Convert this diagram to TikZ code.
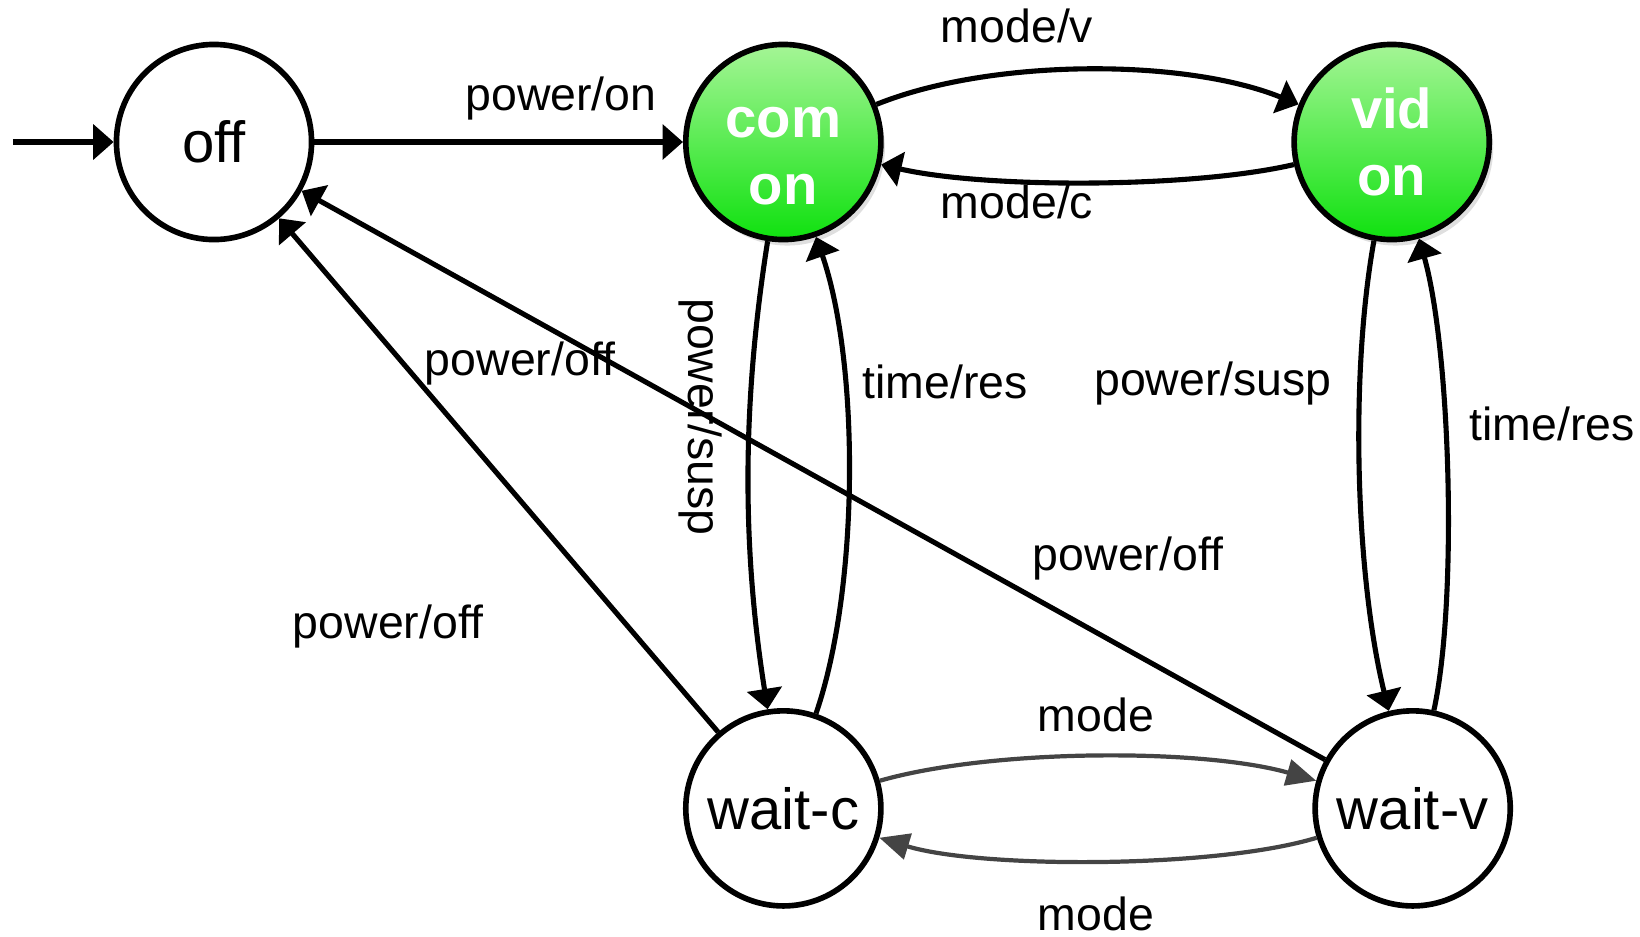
\documentclass[tikz,border=0pt]{standalone}
\usepackage{fontspec}
\setmainfont{Liberation Sans}
\usepackage{tikz}
\usetikzlibrary{positioning,shadows,arrows.meta}
\definecolor{lightgreen}{RGB}{165,245,150}
\definecolor{deepgreen}{RGB}{15,225,15}
\definecolor{darkgrey}{RGB}{68,68,68}
\tikzstyle{state}=[circle, draw=black, line width=1.6pt, minimum size=1.95cm, inner sep=0pt, font=\fontsize{16.5}{19}\selectfont]
\tikzstyle{onstate}=[state, top color=lightgreen, bottom color=deepgreen, text=white, align=center, font=\fontsize{16}{19}\selectfont\bfseries, drop shadow={opacity=0.25, shadow xshift=0.4mm, shadow yshift=-0.6mm}]
\tikzstyle{arrow}=[-{Triangle[length=5.8pt,width=9.8pt]}, line width=1.45pt]
\tikzstyle{modearrow}=[-{Triangle[length=8.5pt,width=7.5pt]}, line width=1.2pt, draw=darkgrey]
\tikzstyle{lbl}=[font=\fontsize{13.2}{15}\selectfont, anchor=base]

\begin{document}
\begin{tikzpicture}[x=0.01cm, y=-0.01cm, on grid]
        \useasboundingbox (0,0) rectangle (1640,936);
        \node[state] (off) at (214,142) {off};
        \node[onstate, text height=35.7pt, right=5.69cm of off] (comon) {com\\on};
        \node[onstate, right=6.08cm of comon] (vidon) {vid\\on};
        \node[state, below=6.66cm of comon] (waitc) {wait-c};
        \node[state, below right=6.66cm and 0.21cm of vidon] (waitv) {wait-v};
        \coordinate[left=2.01cm of off] (start);

        \draw[arrow] (start) -- (off);
        \draw[arrow] (off) -- (comon);
        \draw[arrow] (comon) to[bend left=22, looseness=0.75] (vidon);
        \draw[arrow] (vidon) to[bend left=13, looseness=0.66] (comon);
        \draw[arrow] (comon) to[bend right=9, looseness=0.9] (waitc);
        \draw[arrow] (waitc) to[bend right=19, looseness=0.72] (comon);
        \draw[arrow] (vidon) to[bend right=12, looseness=0.75] (waitv);
        \draw[arrow] (waitv) to[bend right=14, looseness=0.62] (vidon);
        \draw[arrow] (waitc) -- (off);
        \draw[arrow] (waitv) -- (off);
        \draw[modearrow] (waitc) to[bend left=16, looseness=0.69] (waitv);
        \draw[modearrow] (waitv) to[bend left=17, looseness=0.62] (waitc);

        \node[lbl] (lpon) at (561,110) {power/on};
        \node[lbl] (lmodev) at (1017,42) {mode/v};
        \node[lbl] (lmodec) at (1017,218) {mode/c};
        \node[lbl, rotate=-90, anchor=center] (lsuspc) at (700,417) {power/susp};
        \node[lbl] (lresc) at (945,398) {time/res};
        \node[lbl] (lsuspv) at (1213,395) {power/susp};
        \node[lbl] (lresv) at (1552,440) {time/res};
        \node[lbl] (loffa) at (520,375) {power/off};
        \node[lbl] (loffb) at (388,638) {power/off};
        \node[lbl] (loffc) at (1128,570) {power/off};
        \node[lbl] (lmodet) at (1096,731) {mode};
        \node[lbl] (lmodeb) at (1096,930) {mode};
    \end{tikzpicture}
\end{document}
